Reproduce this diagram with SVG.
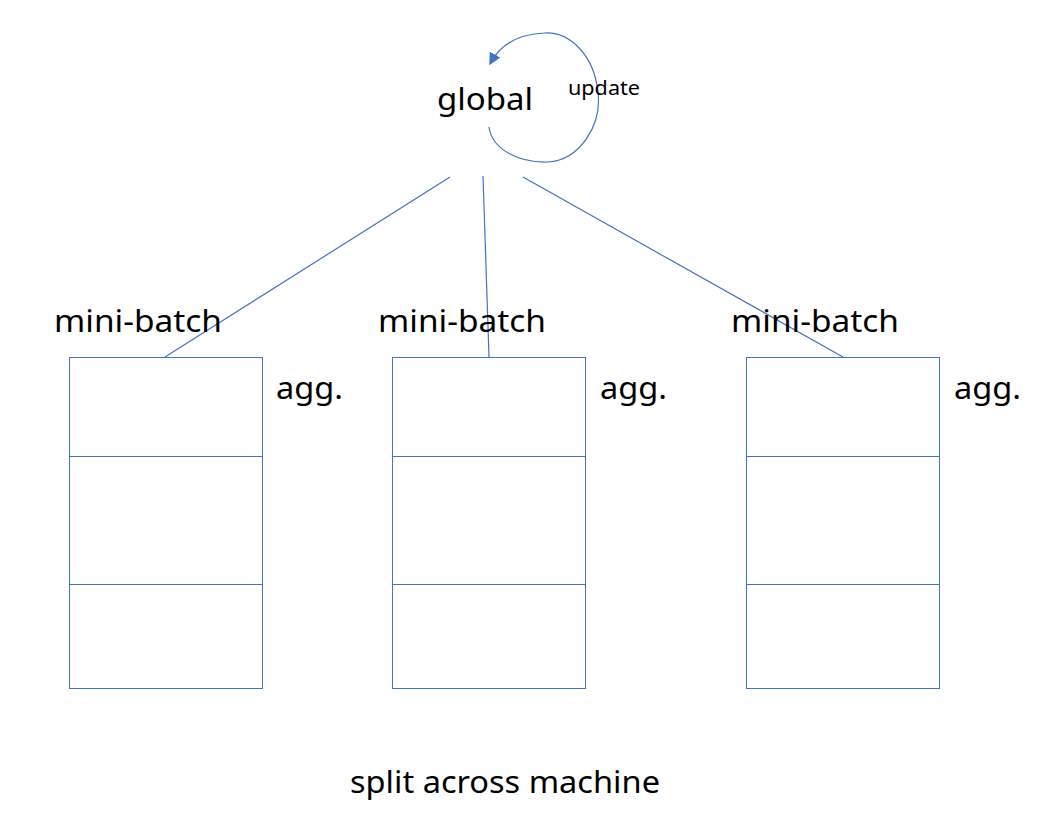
<svg xmlns="http://www.w3.org/2000/svg" width="1038" height="822" viewBox="0 0 1038 822">
<style>
.t{font-family:"Noto Sans","DejaVu Sans",sans-serif;fill:#000;}
.big{font-size:31px;}
.small{font-size:20px;}
.box{fill:none;stroke:#4472C4;stroke-width:1;}
.ln{fill:none;stroke:#4472C4;stroke-width:1.2;}
</style>
<defs>
<marker id="ah" viewBox="0 0 10 10" refX="7" refY="5" markerWidth="10" markerHeight="10" orient="auto" markerUnits="strokeWidth">
<path d="M0,0 L10,5 L0,10 z" fill="#4472C4"/>
</marker>
</defs>
<rect width="1038" height="822" fill="#fff"/>
<g id="connectors">
<line class="ln" x1="450" y1="177" x2="165" y2="357"/>
<line class="ln" x1="483" y1="176" x2="489" y2="357"/>
<line class="ln" x1="523" y1="177" x2="843" y2="357"/>
<path class="ln" d="M489,127 C492,150 520,163 548,162 C580,160 602,125 598,92 C594,55 570,32 545,33 C522,34 502,42 491,62" marker-end="url(#ah)"/>
<text class="t small" x="568" y="95" textLength="72" lengthAdjust="spacingAndGlyphs">update</text>
</g>
<g id="global">
<text class="t big" x="437" y="110" textLength="96" lengthAdjust="spacingAndGlyphs">global</text>
</g>
<g id="batch1">
<text class="t big" x="54" y="332" textLength="168" lengthAdjust="spacingAndGlyphs">mini-batch</text>
<rect class="box" x="69.5" y="357.5" width="193" height="331"/>
<line class="box" x1="69.5" y1="456.5" x2="262.5" y2="456.5"/>
<line class="box" x1="69.5" y1="584.5" x2="262.5" y2="584.5"/>
<text class="t big" x="276" y="399" textLength="67" lengthAdjust="spacingAndGlyphs">agg.</text>
</g>
<g id="batch2">
<text class="t big" x="378" y="332" textLength="168" lengthAdjust="spacingAndGlyphs">mini-batch</text>
<rect class="box" x="392.5" y="357.5" width="193" height="331"/>
<line class="box" x1="392.5" y1="456.5" x2="585.5" y2="456.5"/>
<line class="box" x1="392.5" y1="584.5" x2="585.5" y2="584.5"/>
<text class="t big" x="600" y="399" textLength="67" lengthAdjust="spacingAndGlyphs">agg.</text>
</g>
<g id="batch3">
<text class="t big" x="731" y="332" textLength="168" lengthAdjust="spacingAndGlyphs">mini-batch</text>
<rect class="box" x="746.5" y="357.5" width="193" height="331"/>
<line class="box" x1="746.5" y1="456.5" x2="939.5" y2="456.5"/>
<line class="box" x1="746.5" y1="584.5" x2="939.5" y2="584.5"/>
<text class="t big" x="954" y="399" textLength="67" lengthAdjust="spacingAndGlyphs">agg.</text>
</g>
<g id="caption">
<text class="t big" x="350" y="793" textLength="310" lengthAdjust="spacingAndGlyphs">split across machine</text>
</g>
</svg>
